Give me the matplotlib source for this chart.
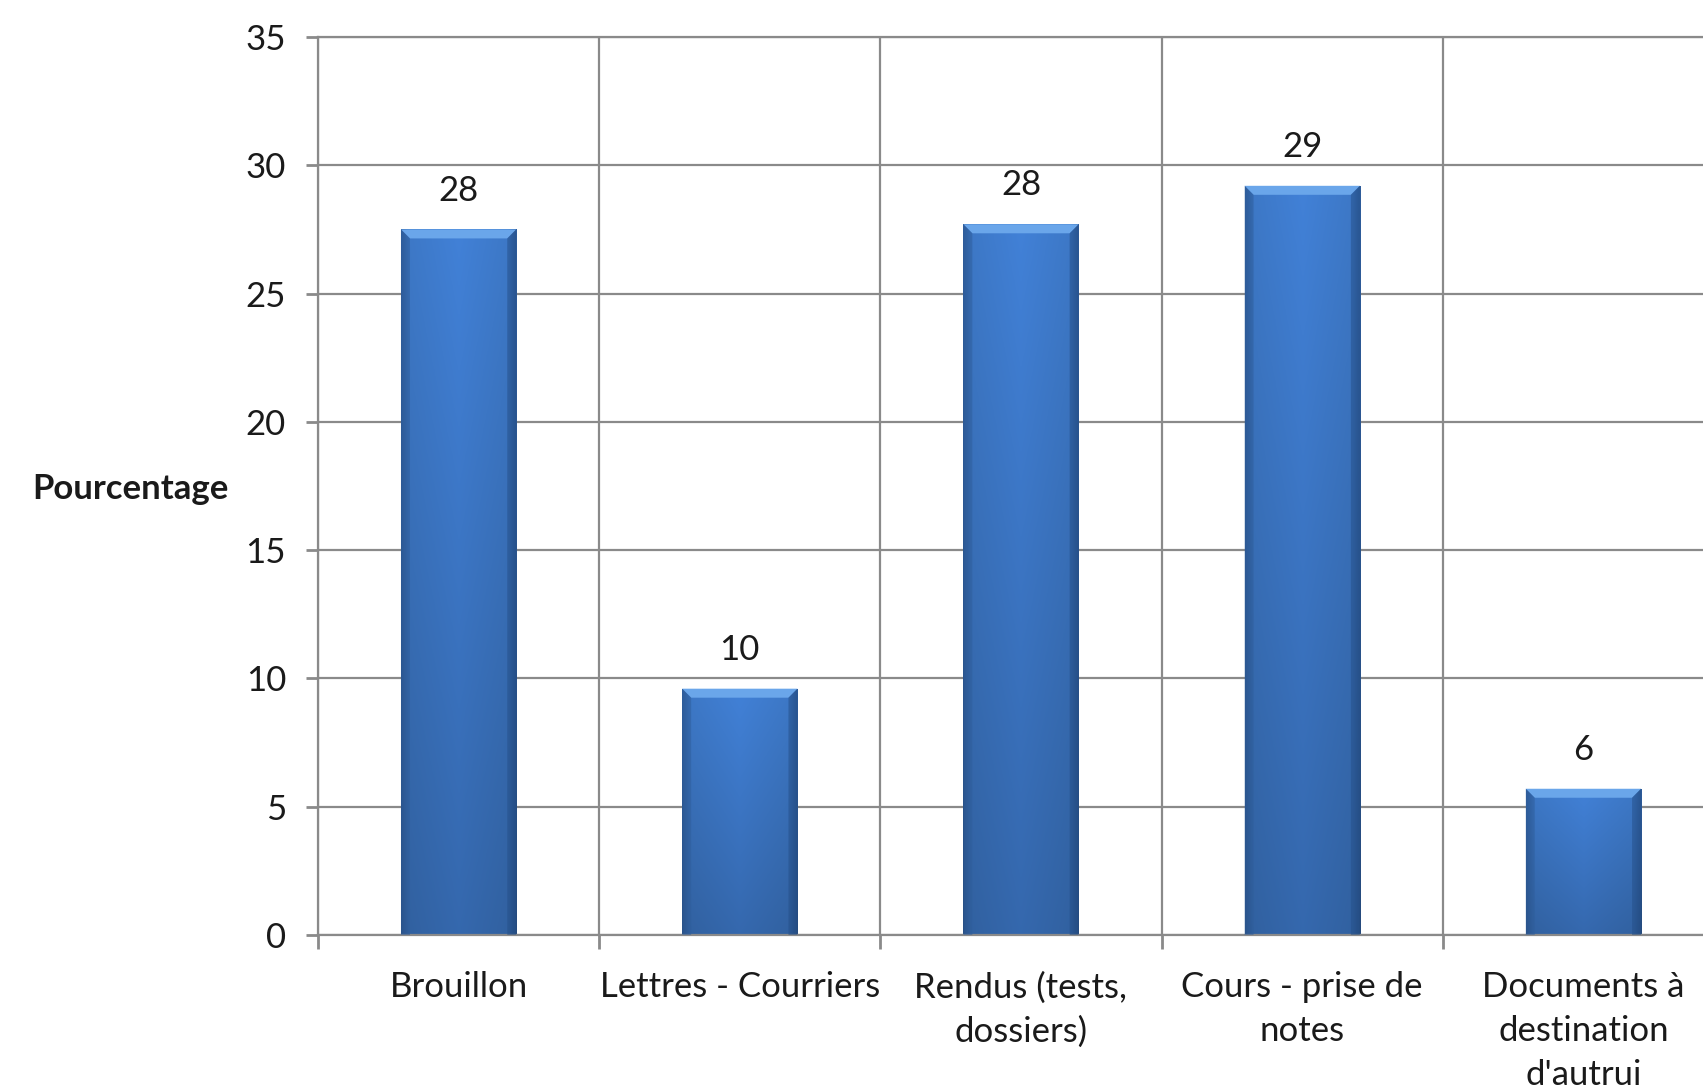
import numpy as np
import matplotlib
matplotlib.use("Agg")
import matplotlib.pyplot as plt
from matplotlib.patches import Polygon
from matplotlib.colors import LinearSegmentedColormap

categories = ["Brouillon", "Lettres - Courriers", "Rendus (tests,\ndossiers)",
              "Cours - prise de\nnotes", "Documents à\ndestination\nd'autrui"]
values = [27.5, 9.6, 27.7, 29.2, 5.7]
value_labels = ["28", "10", "28", "29", "6"]
yticks = [0, 5, 10, 15, 20, 25, 30, 35]

plt.rcParams['font.family'] = ['Lato', 'DejaVu Sans']
W, H = 1703, 1088
fig = plt.figure(figsize=(W / 100, H / 100), dpi=100)
left, bottom, top = 318 / W, 153 / H, 1051 / H
width = 1406 / W
ax = fig.add_axes([left, bottom, width, top - bottom])

FS = 25
grid_c = "#8a8a8a"
n = len(categories)
ax.set_xlim(-0.5, n - 0.5)
ax.set_ylim(0, 35)
ax.set_yticks(yticks)
ax.set_xticks(range(n))
ax.set_xticklabels(categories, fontsize=FS, linespacing=1.46, color="#1a1a1a")
ax.set_xticks(np.arange(-0.5, n, 1.0), minor=True)
ax.tick_params(axis='x', which='major', length=0, pad=26)
ax.tick_params(axis='x', which='minor', length=10, width=2, color=grid_c)
ax.tick_params(axis='y', length=9, width=2, color=grid_c, pad=14,
               labelsize=FS, labelcolor="#1a1a1a")
ax.grid(True, axis='y', which='major', color=grid_c, linewidth=1.6)
ax.grid(True, axis='x', which='minor', color=grid_c, linewidth=1.6)
ax.set_axisbelow(True)
for s in ax.spines.values():
    s.set_color(grid_c)
    s.set_linewidth(1.6)

cmap = LinearSegmentedColormap.from_list(
    "bar", ["#2c5894", "#3a72bc", "#3f7ccf", "#3a72bc", "#2c5894"])
bw = 0.41
bars = ax.bar(range(n), values, width=bw, color="none", edgecolor="none", zorder=2)
fig.canvas.draw()
px_per_y = (ax.transData.transform((0, 1))[1] - ax.transData.transform((0, 0))[1])
px_per_x = (ax.transData.transform((1, 0))[0] - ax.transData.transform((0, 0))[0])
bev_h = 9 / px_per_y
bev_w = 9 / px_per_x

xs = np.linspace(0, 1, 200)
hg = np.interp(xs, [0, 0.08, 0.5, 0.92, 1], [0, 0.3, 0.5, 0.7, 1.0])
for rect, v, lab in zip(bars, values, value_labels):
    x0 = rect.get_x()
    x1 = x0 + rect.get_width()
    vert = np.linspace(1.04, 0.84, 100)[:, None, None]
    base = cmap(hg)[None, :, :3]
    img = np.clip(base * vert, 0, 1)
    im = ax.imshow(img, extent=(x0, x1, 0, v), aspect='auto', zorder=2,
                   origin='upper', interpolation='bilinear')
    im.set_clip_path(rect)
    ax.add_patch(Polygon([(x0, v), (x1, v), (x1 - bev_w, v - bev_h), (x0 + bev_w, v - bev_h)],
                         closed=True, facecolor="#6aa6ea", edgecolor="none", zorder=3))
    ax.add_patch(Polygon([(x0, v), (x0 + bev_w, v - bev_h), (x0 + bev_w, 0), (x0, 0)],
                         closed=True, facecolor="#2f5e9c", edgecolor="none", zorder=3, alpha=0.5))
    ax.add_patch(Polygon([(x1, v), (x1 - bev_w, v - bev_h), (x1 - bev_w, 0), (x1, 0)],
                         closed=True, facecolor="#254f88", edgecolor="none", zorder=3, alpha=0.5))
    ax.annotate(lab, (rect.get_x() + rect.get_width() / 2, v), xytext=(0, 28),
                textcoords='offset points', ha='center', va='center',
                fontsize=FS, color="#1a1a1a")

ax.set_xlim(-0.5, n - 0.5)
ax.set_ylim(0, 35)

fig.text(130 / W, (H - 489) / H, "Pourcentage", fontsize=FS, fontweight='bold',
         ha='center', va='center', color="#1a1a1a")

fig.savefig("out.png", dpi=100)
